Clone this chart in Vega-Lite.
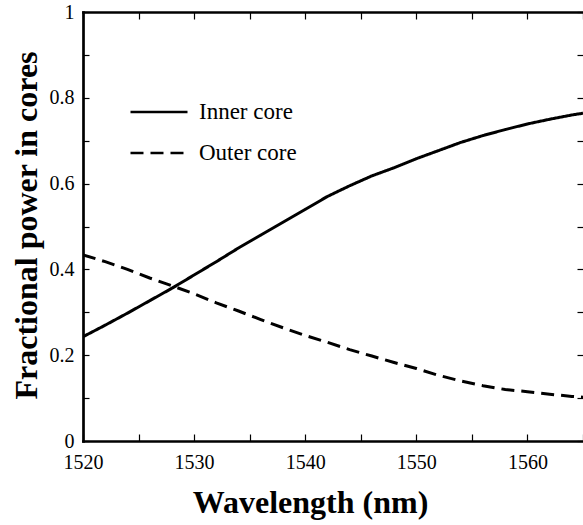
{
  "$schema": "https://vega.github.io/schema/vega-lite/v6.json",
  "width": 500,
  "height": 429,
  "autosize": {"type": "none"},
  "padding": {"left": 83, "top": 12, "right": 0, "bottom": 84},
  "background": "white",
  "config": {
    "view": {"stroke": null},
    "font": "Liberation Serif",
    "text": {"font": "Liberation Serif"},
    "legend": {"labelFont": "Liberation Serif"},
    "axis": {
      "grid": false,
      "domainColor": "black",
      "domainWidth": 2.7,
      "domainCap": "square",
      "tickColor": "black",
      "tickWidth": 1.2,
      "labelColor": "black",
      "labelFont": "Liberation Serif",
      "labelFontSize": 20,
      "labelFlush": false,
      "labelOverlap": false,
      "titleColor": "black",
      "titleFont": "Liberation Serif",
      "titleFontSize": 32,
      "titleFontWeight": "bold"
    }
  },
  "data": {
    "values": [
      {"wavelength": 1520, "power": 0.243, "series": "Inner core"},
      {"wavelength": 1522, "power": 0.270, "series": "Inner core"},
      {"wavelength": 1524, "power": 0.298, "series": "Inner core"},
      {"wavelength": 1526, "power": 0.327, "series": "Inner core"},
      {"wavelength": 1528, "power": 0.356, "series": "Inner core"},
      {"wavelength": 1530, "power": 0.387, "series": "Inner core"},
      {"wavelength": 1532, "power": 0.418, "series": "Inner core"},
      {"wavelength": 1534, "power": 0.450, "series": "Inner core"},
      {"wavelength": 1536, "power": 0.480, "series": "Inner core"},
      {"wavelength": 1538, "power": 0.510, "series": "Inner core"},
      {"wavelength": 1540, "power": 0.540, "series": "Inner core"},
      {"wavelength": 1542, "power": 0.570, "series": "Inner core"},
      {"wavelength": 1544, "power": 0.595, "series": "Inner core"},
      {"wavelength": 1546, "power": 0.618, "series": "Inner core"},
      {"wavelength": 1548, "power": 0.637, "series": "Inner core"},
      {"wavelength": 1550, "power": 0.658, "series": "Inner core"},
      {"wavelength": 1552, "power": 0.677, "series": "Inner core"},
      {"wavelength": 1554, "power": 0.696, "series": "Inner core"},
      {"wavelength": 1556, "power": 0.712, "series": "Inner core"},
      {"wavelength": 1558, "power": 0.726, "series": "Inner core"},
      {"wavelength": 1560, "power": 0.739, "series": "Inner core"},
      {"wavelength": 1562, "power": 0.750, "series": "Inner core"},
      {"wavelength": 1564, "power": 0.760, "series": "Inner core"},
      {"wavelength": 1565, "power": 0.764, "series": "Inner core"},
      {"wavelength": 1520, "power": 0.434, "series": "Outer core"},
      {"wavelength": 1522, "power": 0.418, "series": "Outer core"},
      {"wavelength": 1524, "power": 0.400, "series": "Outer core"},
      {"wavelength": 1526, "power": 0.380, "series": "Outer core"},
      {"wavelength": 1528, "power": 0.362, "series": "Outer core"},
      {"wavelength": 1530, "power": 0.343, "series": "Outer core"},
      {"wavelength": 1532, "power": 0.322, "series": "Outer core"},
      {"wavelength": 1534, "power": 0.303, "series": "Outer core"},
      {"wavelength": 1536, "power": 0.283, "series": "Outer core"},
      {"wavelength": 1538, "power": 0.264, "series": "Outer core"},
      {"wavelength": 1540, "power": 0.246, "series": "Outer core"},
      {"wavelength": 1542, "power": 0.230, "series": "Outer core"},
      {"wavelength": 1544, "power": 0.213, "series": "Outer core"},
      {"wavelength": 1546, "power": 0.198, "series": "Outer core"},
      {"wavelength": 1548, "power": 0.183, "series": "Outer core"},
      {"wavelength": 1550, "power": 0.169, "series": "Outer core"},
      {"wavelength": 1552, "power": 0.153, "series": "Outer core"},
      {"wavelength": 1554, "power": 0.140, "series": "Outer core"},
      {"wavelength": 1556, "power": 0.129, "series": "Outer core"},
      {"wavelength": 1558, "power": 0.120, "series": "Outer core"},
      {"wavelength": 1560, "power": 0.115, "series": "Outer core"},
      {"wavelength": 1562, "power": 0.109, "series": "Outer core"},
      {"wavelength": 1564, "power": 0.104, "series": "Outer core"},
      {"wavelength": 1565, "power": 0.102, "series": "Outer core"}
    ]
  },
  "layer": [
    {
      "mark": {"type": "line", "color": "black", "strokeWidth": 3, "clip": true},
      "encoding": {
        "x": {
          "field": "wavelength",
          "type": "quantitative",
          "scale": {"domain": [1520, 1565], "nice": false, "zero": false},
          "axis": {
            "orient": "bottom",
            "values": [1520, 1525, 1530, 1535, 1540, 1545, 1550, 1555, 1560, 1565],
            "format": "d",
            "labelExpr": "datum.value % 10 === 0 ? format(datum.value, 'd') : ''",
            "labelFont": "Liberation Serif",
            "tickSize": -7,
            "labelPadding": 18,
            "title": "Wavelength (nm)",
            "titleX": 227,
            "titleY": 71,
            "titleAlign": "center",
            "titleBaseline": "alphabetic"
          }
        },
        "y": {
          "field": "power",
          "type": "quantitative",
          "scale": {"domain": [0, 1], "nice": false},
          "axis": {
            "orient": "left",
            "values": [0, 0.1, 0.2, 0.3, 0.4, 0.5, 0.6, 0.7, 0.8, 0.9, 1],
            "labelExpr": "round(datum.value * 10) % 2 === 0 ? format(datum.value, '~g') : ''",
            "labelFont": "Liberation Serif",
            "tickSize": -6,
            "labelPadding": 15,
            "title": "Fractional power in cores",
            "titleX": -47,
            "titleY": 213,
            "titleAngle": 270,
            "titleAlign": "center",
            "titleBaseline": "alphabetic"
          }
        },
        "strokeDash": {
          "field": "series",
          "type": "nominal",
          "scale": {"domain": ["Inner core", "Outer core"], "range": [[1, 0], [13, 7]]},
          "legend": {
            "title": null,
            "orient": "none",
            "legendX": 63,
            "legendY": 87,
            "padding": 0,
            "symbolType": "M-2.5,0L2.5,0",
            "symbolSize": 520,
            "symbolStrokeColor": "black",
            "symbolStrokeWidth": 2.5,
            "labelOffset": 27,
            "labelFont": "Liberation Serif",
            "labelFontSize": 23,
            "labelColor": "black",
            "rowPadding": 16
          }
        }
      }
    },
    {
      "mark": {"type": "line", "opacity": 0},
      "encoding": {
        "x": {
          "field": "wavelength",
          "type": "quantitative",
          "axis": {
            "orient": "top",
            "values": [1520, 1525, 1530, 1535, 1540, 1545, 1550, 1555, 1560, 1565],
            "labels": false,
            "tickSize": -7,
            "title": null
          }
        },
        "y": {
          "field": "power",
          "type": "quantitative",
          "axis": {
            "orient": "right",
            "values": [0, 0.1, 0.2, 0.3, 0.4, 0.5, 0.6, 0.7, 0.8, 0.9, 1],
            "labels": false,
            "domain": false,
            "tickSize": -6,
            "title": null
          }
        },
        "detail": {"field": "series", "type": "nominal"}
      }
    }
  ],
  "resolve": {"axis": {"x": "independent", "y": "independent"}}
}
